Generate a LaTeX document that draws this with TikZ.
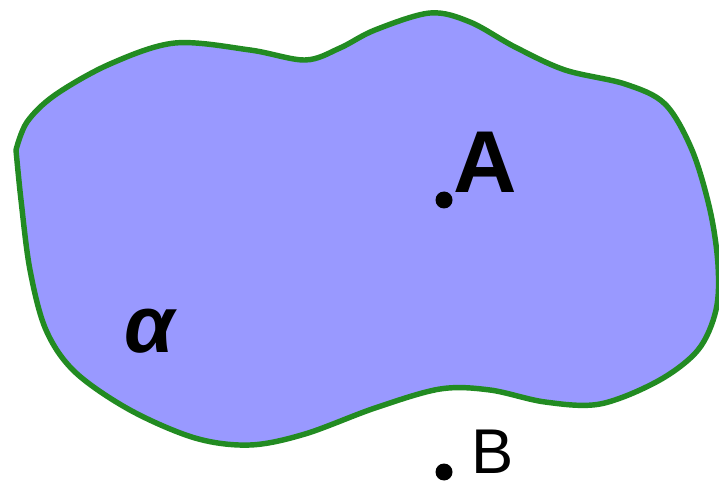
\documentclass[tikz,border=0pt]{standalone}
\usepackage{fontspec}
\setmainfont{Liberation Sans}
\usetikzlibrary{positioning}

\definecolor{planefill}{HTML}{9999FF}
\definecolor{planeedge}{HTML}{228B22}

\tikzset{
  pt/.style={circle,fill=black,inner sep=0pt,minimum size=0.34cm},
  lbl/.style={inner sep=0pt,anchor=base west}
}

\begin{document}
\begin{tikzpicture}[x=0.02cm,y=-0.02cm]
  \useasboundingbox (0,0) rectangle (719,482);

  % the plane, with its corner at the upper left
  \draw[planeedge,line width=3.1pt,fill=planefill,line join=round]
    plot[smooth,tension=0.55] coordinates {
      (16,150) (27,122) (55,95) (110,64) (175,43) (250,50) (305,60)
      (340,48) (375,30) (430,13) (470,22) (515,47) (565,70)
      (625,84) (665,104) (692,150) (710,210) (718,265) (716,310)
      (698,350) (658,381) (600,404) (545,402) (490,390) (440,389)
      (375,408) (305,434) (250,445) (195,438) (130,410) (75,372)
      (46,330) (30,270) (21,200) (16,150)} -- cycle;

  \node[pt] (a) at (444,200) {};
  \node[pt] (b) at (444,472) {};

  \node[lbl,font=\fontsize{50}{50}\selectfont\bfseries] (a-lbl) at (453,193) {A};
  \node[lbl,font=\fontsize{36}{36}\selectfont] (b-lbl) at (471,473) {B};
  \node[lbl,font=\fontsize{46}{46}\selectfont\bfseries\itshape] (alpha) at (124,353) {α};

\end{tikzpicture}
\end{document}
